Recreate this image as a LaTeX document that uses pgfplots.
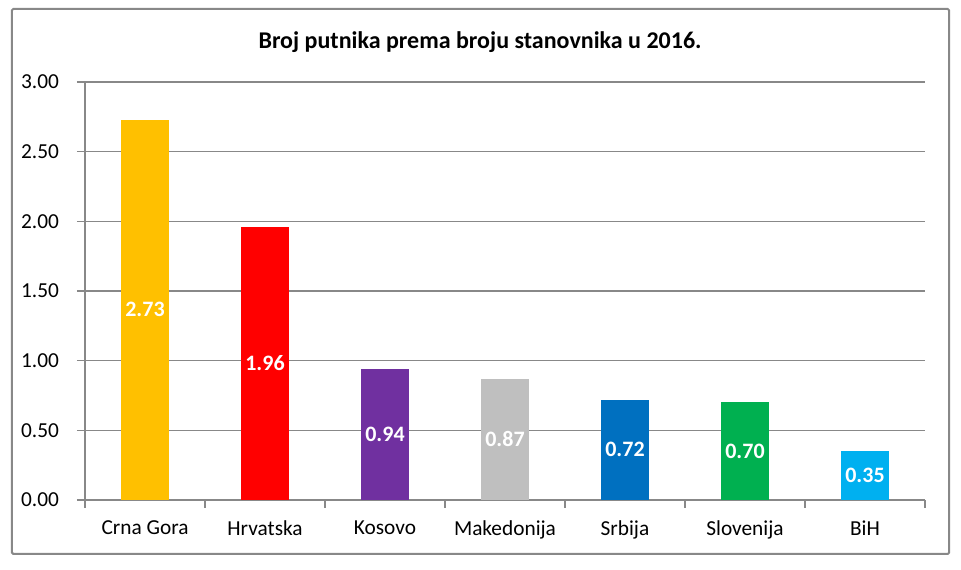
\documentclass[border=0pt]{standalone}
\usepackage{fontspec}
\setmainfont{Carlito}
\usepackage{pgfplots}
\pgfplotsset{compat=1.18}
\definecolor{cg}{HTML}{FFC000}
\definecolor{hr}{HTML}{FF0000}
\definecolor{ko}{HTML}{7030A0}
\definecolor{mk}{HTML}{BFBFBF}
\definecolor{sr}{HTML}{0070C0}
\definecolor{sl}{HTML}{00B050}
\definecolor{bh}{HTML}{00B0F0}
\definecolor{gridc}{HTML}{888888}
\begin{document}
\begin{tikzpicture}
\useasboundingbox (-63.75pt,-52.5pt) rectangle (657pt,375pt);
\begin{pgfinterruptboundingbox}
\begin{axis}[
  at={(0,0)}, anchor=south west,
  scale only axis, width=630pt, height=313.5pt,
  xmin=-0.5, xmax=6.5, ymin=0, ymax=3,
  axis x line*=bottom, axis y line*=left,
  axis line style={gridc, line width=0.8pt, -},
  xtick={0,1,2,3,4,5,6},
  xticklabels={Crna Gora,Hrvatska,Kosovo,Makedonija,Srbija,Slovenija,BiH},
  major x tick style={draw=none},
  minor xtick={-0.5,0.5,1.5,2.5,3.5,4.5,5.5,6.5},
  minor x tick style={gridc, line width=0.8pt},
  minor tick length=6pt,
  ytick={0,0.5,...,3},
  y tick style={gridc, line width=0.8pt},
  major tick length=6pt,
  tick align=outside,
  ymajorgrids, grid style={gridc, line width=0.8pt},
  y tick label style={/pgf/number format/fixed, /pgf/number format/fixed zerofill, /pgf/number format/precision=2},
  /pgf/number format/assume math mode=true,
  ticklabel style={font=\fontsize{16}{19}\selectfont, text=black},
  xticklabel style={yshift=-6pt},
  yticklabel style={xshift=-10pt},
  bar width=36pt,
  clip=false,
]
\addplot[ybar, fill=cg, draw=none] coordinates {(0,2.73)};
\addplot[ybar, fill=hr, draw=none] coordinates {(1,1.96)};
\addplot[ybar, fill=ko, draw=none] coordinates {(2,0.94)};
\addplot[ybar, fill=mk, draw=none] coordinates {(3,0.87)};
\addplot[ybar, fill=sr, draw=none] coordinates {(4,0.72)};
\addplot[ybar, fill=sl, draw=none] coordinates {(5,0.70)};
\addplot[ybar, fill=bh, draw=none] coordinates {(6,0.35)};
\addplot[only marks, mark=none, point meta=explicit symbolic,
  nodes near coords,
  every node near coord/.append style={anchor=center, text=white, font=\fontsize{16.5}{19}\selectfont\bfseries}]
  coordinates {(0,1.365)[2.73] (1,0.98)[1.96] (2,0.47)[0.94] (3,0.435)[0.87] (4,0.36)[0.72] (5,0.35)[0.70] (6,0.175)[0.35]};
\end{axis}
\draw[gridc, line width=1.5pt, rounded corners=1pt] (-54.75pt,-40.5pt) rectangle (648pt,368.25pt);
\node[font=\fontsize{18}{21}\selectfont\bfseries] at (296.25pt,343.5pt) {Broj putnika prema broju stanovnika u 2016.};
\end{pgfinterruptboundingbox}
\end{tikzpicture}
\end{document}
